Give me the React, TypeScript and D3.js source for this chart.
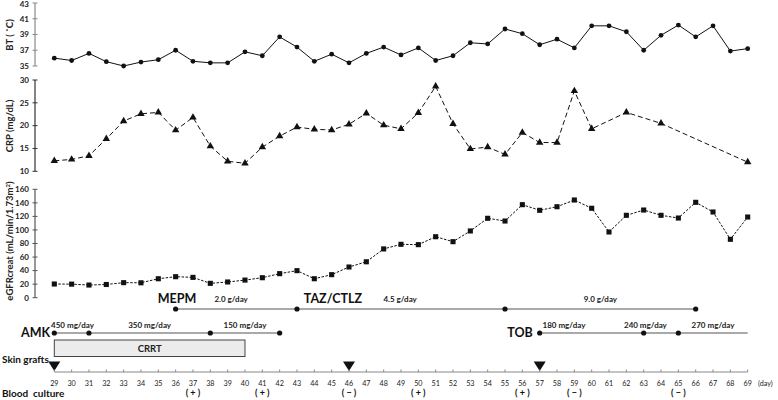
import React from 'react';
import * as d3 from 'd3';

// body temperature, one reading per day 29..69
const btDays = d3.range(29, 70);
const btValues = [
  36.0, 35.7, 36.6, 35.55, 35.0, 35.5, 35.8, 37.0, 35.6, 35.4, 35.4, 36.8, 36.3, 38.7,
  37.4, 35.6, 36.5, 35.4, 36.6, 37.4, 36.4, 37.3, 35.7, 36.3, 37.95, 37.8, 39.7, 39.1,
  37.7, 38.4, 37.3, 40.1, 40.1, 39.35, 37.0, 38.9, 40.2, 38.7, 40.1, 36.9, 37.2,
];

// CRP has gaps at the end
const crpDays = [
  29, 30, 31, 32, 33, 34, 35, 36, 37, 38, 39, 40, 41, 42, 43, 44, 45, 46, 47, 48, 49, 50,
  51, 52, 53, 54, 55, 56, 57, 58, 59, 60, 62, 64, 69,
];
const crpValues = [
  12.3, 12.6, 13.4, 17.1, 21.0, 22.6, 22.9, 19.0, 21.8, 15.5, 12.2, 11.75, 15.3, 17.7,
  19.7, 19.2, 19.05, 20.3, 22.7, 20.1, 19.3, 22.8, 28.6, 20.4, 14.9, 15.3, 13.7, 18.5,
  16.3, 16.3, 27.6, 19.3, 22.9, 20.5, 12.0,
];

const egfrDays = d3.range(29, 70);
const egfrValues = [
  20.2, 20, 18.7, 19.5, 22.2, 22, 28, 31, 30, 21.2, 23.2, 26, 29.5, 35.5, 39.9, 28, 34,
  45.3, 53, 72, 78.8, 78.3, 90, 82.7, 98.5, 117.2, 113.2, 137.3, 129, 134.3, 144.2, 132,
  97, 121.6, 129.4, 121.6, 117.6, 140.8, 126.5, 86.2, 119.1,
];

const btTicks = [35, 37, 39, 41, 43];
const crpTicks = [10, 15, 20, 25, 30];
const egfrTicks = [0, 20, 40, 60, 80, 100, 120, 140, 160];
const dayTicks = d3.range(29, 70);

// treatment timeline
const mepmDots = [36, 43, 55, 66];
const mepmDoses = [
  { day: 39.2, text: '2.0 g/day' },
  { day: 48.95, text: '4.5 g/day' },
  { day: 60.5, text: '9.0 g/day' },
];
const amkDots = [29, 31, 38, 42];
const amkDoses = [
  { day: 30.05, text: '450 mg/day' },
  { day: 34.5, text: '350 mg/day' },
  { day: 40, text: '150 mg/day' },
];
const tobDots = [57, 63, 65];
const tobEnd = 69;
const tobDoses = [
  { day: 58.4, text: '180 mg/day' },
  { day: 63.1, text: '240 mg/day' },
  { day: 67, text: '270 mg/day' },
];
const crrtSpan = [29, 40];
const skinGraftDays = [29, 46, 57];
const cultures = [
  { day: 37, res: '( + )' },
  { day: 41, res: '( + )' },
  { day: 46, res: '( \u2212 )' },
  { day: 50, res: '( + )' },
  { day: 56, res: '( + )' },
  { day: 59, res: '( \u2212 )' },
  { day: 65, res: '( \u2212 )' },
];

const FONT = 'Lato, "Open Sans", "Liberation Sans", sans-serif';

const App = () => {
  const W = 778;
  const H = 400;
  const x = d3.scaleLinear().domain([29, 69]).range([54.3, 747.7]);
  const yBt = d3.scaleLinear().domain([35, 43]).range([66, 3]);
  const yCrp = d3.scaleLinear().domain([10, 30]).range([171.3, 80]);
  const yEgfr = d3.scaleLinear().domain([0, 160]).range([297.7, 189.3]);
  const axisX = 35;

  const btLine = d3.line<number>().x((_, i) => x(btDays[i])).y((d) => yBt(d));
  const crpLine = d3.line<number>().x((_, i) => x(crpDays[i])).y((d) => yCrp(d));
  const egfrLine = d3.line<number>().x((_, i) => x(egfrDays[i])).y((d) => yEgfr(d));

  const tri = d3.symbol().type(d3.symbolTriangle).size(24)();
  const sq = d3.symbol().type(d3.symbolSquare).size(26)();

  const yAxis = (scale: d3.ScaleLinear<number, number>, ticks: number[], color: string) => (
    <g>
      <line x1={axisX} x2={axisX} y1={scale(ticks[0])} y2={scale(ticks[ticks.length - 1])} stroke={color} strokeWidth={1.2} />
      {ticks.map((t) => (
        <g key={t}>
          <line x1={axisX - 2.5} x2={axisX + 2.5} y1={scale(t)} y2={scale(t)} stroke={color} strokeWidth={1} />
          <text x={axisX - 6} y={Math.max(scale(t), 4.6)} dy="0.35em" textAnchor="end" fontSize={8} fontWeight="bold" fill="#222">
            {t}
          </text>
        </g>
      ))}
    </g>
  );

  const axisY = 372;
  const amkY = 333;
  const mepmY = 309;

  return (
    <svg width={W} height={H} style={{ display: 'block', position: 'absolute', left: 0, top: 0, background: '#fff' }} fontFamily={FONT}>
      {/* panel axes */}
      {yAxis(yBt, btTicks, '#8a8a8a')}
      {yAxis(yCrp, crpTicks, '#333')}
      {yAxis(yEgfr, egfrTicks, '#555')}

      {/* rotated titles */}
      <text transform={`translate(10,${35}) rotate(-90)`} textAnchor="middle" dy="0.35em" fontSize={9.5} fontWeight="bold" fill="#222">
        BT ( ˚C)
      </text>
      <text transform={`translate(10,${126}) rotate(-90)`} textAnchor="middle" dy="0.35em" fontSize={9.5} fontWeight="bold" fill="#222">
        CRP (mg/dL)
      </text>
      <text transform={`translate(10,${241}) rotate(-90)`} textAnchor="middle" dy="0.35em" fontSize={9.5} fontWeight="bold" fill="#222">
        eGFRcreat (mL/min/1.73m<tspan baselineShift="super" fontSize={6}>2</tspan>)
      </text>

      {/* BT */}
      <path d={btLine(btValues) ?? ''} fill="none" stroke="#111" strokeWidth={1} />
      {btValues.map((v, i) => (
        <circle key={i} cx={x(btDays[i])} cy={yBt(v)} r={2.4} fill="#111" />
      ))}

      {/* CRP */}
      <path d={crpLine(crpValues) ?? ''} fill="none" stroke="#111" strokeWidth={1} strokeDasharray="5,3" />
      {crpValues.map((v, i) => (
        <path key={i} d={tri ?? ''} transform={`translate(${x(crpDays[i])},${yCrp(v)})`} fill="#111" />
      ))}

      {/* eGFR */}
      <path d={egfrLine(egfrValues) ?? ''} fill="none" stroke="#111" strokeWidth={1} strokeDasharray="2.5,1.5" />
      {egfrValues.map((v, i) => (
        <path key={i} d={sq ?? ''} transform={`translate(${x(egfrDays[i])},${yEgfr(v)})`} fill="#111" />
      ))}

      {/* MEPM / TAZ/CTLZ */}
      <text x={177} y={299} dy="0.35em" textAnchor="middle" fontSize={12.5} fontWeight="bold" fill="#111">MEPM</text>
      <text x={333} y={299} dy="0.35em" textAnchor="middle" fontSize={12.5} fontWeight="bold" fill="#111">TAZ/CTLZ</text>
      <line x1={x(mepmDots[0])} x2={x(mepmDots[mepmDots.length - 1])} y1={mepmY} y2={mepmY} stroke="#555" strokeWidth={1.2} />
      {mepmDots.map((d) => (
        <circle key={d} cx={x(d)} cy={mepmY} r={2.6} fill="#111" />
      ))}
      {mepmDoses.map((m) => (
        <text key={m.text} x={x(m.day)} y={299} dy="0.35em" textAnchor="middle" fontSize={8} fontWeight="bold" fill="#222">{m.text}</text>
      ))}

      {/* AMK */}
      <text x={35.5} y={amkY} dy="0.35em" textAnchor="middle" fontSize={12.5} fontWeight="bold" fill="#111">AMK</text>
      <line x1={x(amkDots[0])} x2={x(amkDots[amkDots.length - 1])} y1={amkY} y2={amkY} stroke="#555" strokeWidth={1.2} />
      {amkDots.map((d) => (
        <circle key={d} cx={x(d)} cy={amkY} r={2.6} fill="#111" />
      ))}
      {amkDoses.map((m) => (
        <text key={m.text} x={x(m.day)} y={325} dy="0.35em" textAnchor="middle" fontSize={8} fontWeight="bold" fill="#222">{m.text}</text>
      ))}

      {/* TOB */}
      <text x={520} y={amkY} dy="0.35em" textAnchor="middle" fontSize={12.5} fontWeight="bold" fill="#111">TOB</text>
      <line x1={x(tobDots[0])} x2={x(tobEnd)} y1={amkY} y2={amkY} stroke="#555" strokeWidth={1.2} />
      {tobDots.map((d) => (
        <circle key={d} cx={x(d)} cy={amkY} r={2.6} fill="#111" />
      ))}
      {tobDoses.map((m) => (
        <text key={m.text} x={x(m.day)} y={325} dy="0.35em" textAnchor="middle" fontSize={8} fontWeight="bold" fill="#222">{m.text}</text>
      ))}

      {/* CRRT */}
      <rect x={x(crrtSpan[0])} y={340} width={x(crrtSpan[1]) - x(crrtSpan[0])} height={16.5} fill="#ececec" stroke="#444" strokeWidth={1} />
      <text x={(x(crrtSpan[0]) + x(crrtSpan[1])) / 2} y={348.3} dy="0.35em" textAnchor="middle" fontSize={9.5} fontWeight="bold" fill="#222">CRRT</text>

      {/* skin grafts */}
      <text x={2} y={359} dy="0.35em" fontSize={10} fontWeight="bold" fill="#111">Skin grafts</text>
      {skinGraftDays.map((d) => (
        <path key={d} d={`M${x(d) - 6},${361.5}L${x(d) + 6},${361.5}L${x(d)},${371}Z`} fill="#111" />
      ))}

      {/* day axis */}
      <line x1={x(29)} x2={x(69)} y1={axisY} y2={axisY} stroke="#888" strokeWidth={1} />
      {dayTicks.map((d) => (
        <g key={d}>
          <line x1={x(d)} x2={x(d)} y1={axisY} y2={axisY - 2.5} stroke="#888" strokeWidth={1} />
          <text x={x(d)} y={383} dy="0.35em" textAnchor="middle" fontSize={7.2} fill="#222">{d}</text>
        </g>
      ))}
      <text x={758} y={383} dy="0.35em" fontSize={7.2} fill="#222">(day)</text>

      {/* blood culture */}
      <text x={2} y={393} dy="0.35em" fontSize={10} fontWeight="bold" fill="#111" style={{ whiteSpace: 'pre' }}>Blood  culture</text>
      {cultures.map((c) => (
        <text key={c.day} x={x(c.day)} y={393} dy="0.35em" textAnchor="middle" fontSize={9} fontWeight="bold" fill="#111" style={{ whiteSpace: 'pre' }}>
          {c.res}
        </text>
      ))}
    </svg>
  );
};

export default App;
